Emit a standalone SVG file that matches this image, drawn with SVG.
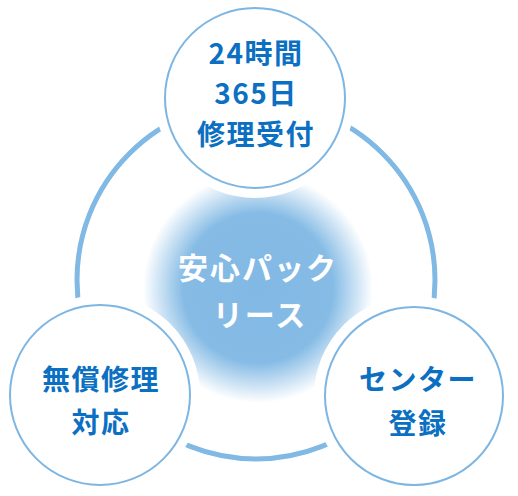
<svg xmlns="http://www.w3.org/2000/svg" width="518" height="496" viewBox="0 0 518 496">
  <style>
    .halo { fill: #ffffff; }
    .node { fill: #ffffff; stroke: #7db6e3; stroke-width: 2; }
    .label { font-family: "Noto Sans CJK JP", "Noto Sans", sans-serif; font-weight: 700; font-size: 28px; fill: #0b6fc2; text-anchor: middle; letter-spacing: 1.5px; }
    .center { font-family: "Noto Sans CJK JP", "Noto Sans", sans-serif; font-weight: 700; font-size: 30px; fill: #ffffff; text-anchor: middle; letter-spacing: 2px; }
  </style>
  <defs>
    <radialGradient id="glow" cx="0.5" cy="0.5" r="0.5">
      <stop offset="0" stop-color="#82b9e4"/>
      <stop offset="0.65" stop-color="#85bbe5"/>
      <stop offset="1" stop-color="#85bbe5" stop-opacity="0"/>
    </radialGradient>
  </defs>
  <rect width="518" height="496" fill="#ffffff"/>
  <g id="connectors">
    <circle cx="256" cy="280" r="179" fill="none" stroke="#80b9e4" stroke-width="5"/>
  </g>
  <g id="center">
    <circle cx="258" cy="288" r="115" fill="url(#glow)"/>
    <text class="center" x="258" y="279">安心パック</text>
    <text class="center" x="260" y="326">リース</text>
  </g>
  <g id="halos">
    <circle class="halo" cx="255" cy="98" r="100"/>
    <circle class="halo" cx="100" cy="395" r="100"/>
    <circle class="halo" cx="414" cy="396" r="100"/>
  </g>
  <g id="node-reception">
    <circle class="node" cx="255" cy="98" r="90"/>
    <text class="label" x="256" y="64">24時間</text>
    <text class="label" x="256" y="104">365日</text>
    <text class="label" x="256" y="145">修理受付</text>
  </g>
  <g id="node-repair">
    <circle class="node" cx="100" cy="395" r="90"/>
    <text class="label" x="101" y="390">無償修理</text>
    <text class="label" x="101" y="433">対応</text>
  </g>
  <g id="node-center">
    <circle class="node" cx="414" cy="396" r="89"/>
    <text class="label" x="418" y="390">センター</text>
    <text class="label" x="418" y="434">登録</text>
  </g>
</svg>
